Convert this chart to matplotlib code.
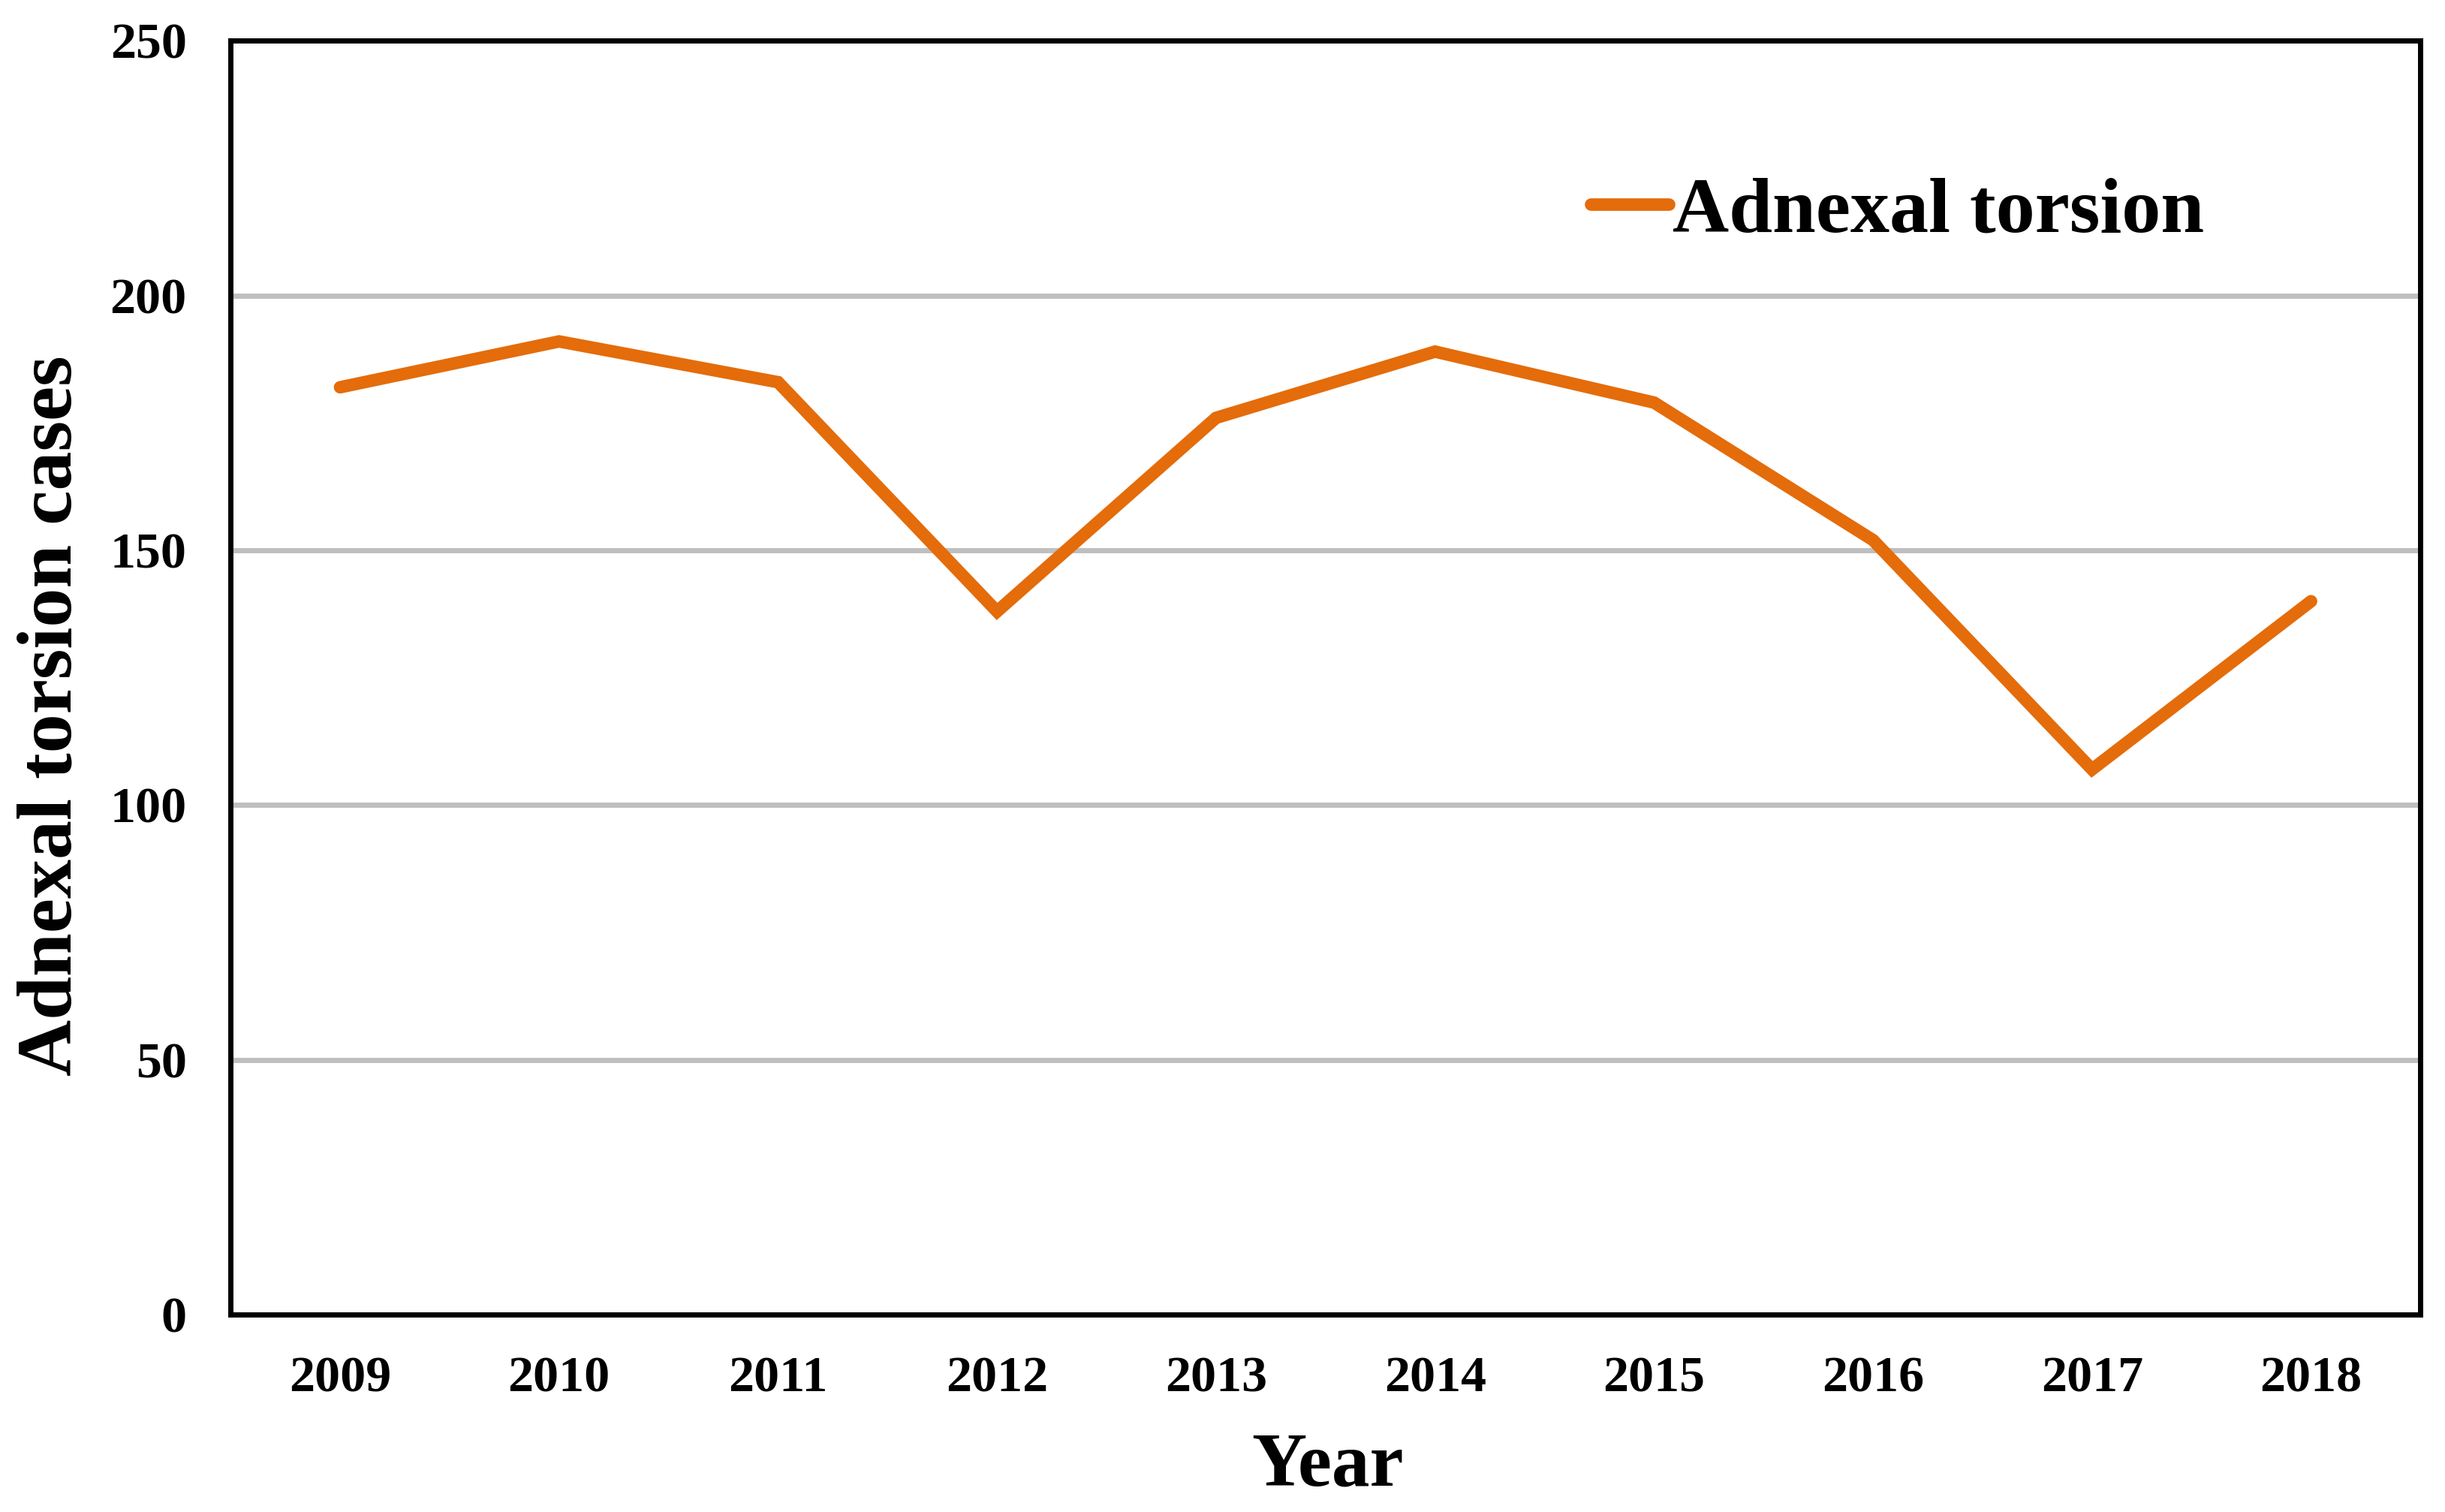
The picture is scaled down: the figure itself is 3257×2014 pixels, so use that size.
import matplotlib
matplotlib.use('Agg')
import matplotlib.pyplot as plt
import numpy as np

# data
years = ['2009', '2010', '2011', '2012', '2013', '2014', '2015', '2016', '2017', '2018']
cases = [182, 191, 183, 138, 176, 189, 179, 152, 107, 140]
y_ticks = [0, 50, 100, 150, 200, 250]

plt.rcParams['font.family'] = ['Liberation Serif', 'DejaVu Serif']
plt.rcParams['font.weight'] = 'bold'

fig = plt.figure(figsize=(32.57, 20.14), dpi=100)
ax = fig.add_axes([0.0943, 0.1306, 0.8957, 0.8424])

x = np.arange(len(years))
ax.plot(x, cases, color='#E46C0A', lw=12, solid_joinstyle='miter',
        solid_capstyle='round', label='Adnexal torsion', zorder=3)

ax.set_xlim(-0.5, len(years) - 0.5)
ax.set_ylim(0, 250)
ax.set_yticks(y_ticks)
ax.set_xticks(x)
ax.set_xticklabels(years)
ax.yaxis.grid(True, color='#BFBFBF', lw=5)
ax.set_axisbelow(True)
ax.tick_params(axis='both', length=0, labelsize=49)
ax.tick_params(axis='y', pad=42)
ax.tick_params(axis='x', pad=40)
for lab in ax.get_xticklabels() + ax.get_yticklabels():
    lab.set_fontweight('bold')

for sp in ax.spines.values():
    sp.set_linewidth(5)
    sp.set_color('black')

ax.set_ylabel('Adnexal torsion cases', fontsize=75, fontweight='bold')
ax.set_xlabel('Year', fontsize=73, fontweight='bold')
ax.yaxis.set_label_coords(-0.0655, 0.47)
ax.xaxis.set_label_coords(0.501, -0.092)

leg = ax.legend(loc='center left', bbox_to_anchor=(0.621, 0.865), frameon=False,
                fontsize=75, handlelength=1.0, handletextpad=0.05, borderpad=0,
                borderaxespad=0)
for t in leg.get_texts():
    t.set_fontweight('bold')

plt.savefig('out.png', dpi=100)
plt.close()
